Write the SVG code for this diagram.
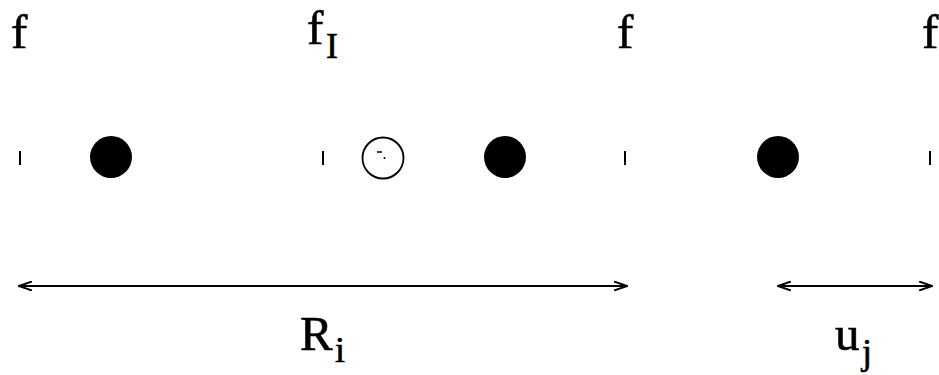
<svg xmlns="http://www.w3.org/2000/svg" width="939" height="375" viewBox="0 0 939 375">
<defs>
<style>
text{font-family:"Liberation Serif","Times New Roman",serif;fill:#000;stroke:#000;stroke-width:0.6}
.m{font-size:49px}
.s{font-size:36px}
.tick{stroke:#000;stroke-width:2}
.ln{stroke:#000;stroke-width:2;fill:none}
</style>
<marker id="ah" viewBox="0 0 14 10" refX="13" refY="5" markerWidth="14" markerHeight="10" markerUnits="userSpaceOnUse" orient="auto-start-reverse">
<path d="M0,0.5 L13,5 L0,9.5" fill="none" stroke="#000" stroke-width="2"/>
</marker>
</defs>
<rect width="939" height="375" fill="#fff"/>
<g id="label-f1"><text class="m" x="11" y="48">f</text></g>
<g id="label-fI"><text class="m" x="307" y="44">f</text><text class="s" x="326" y="58">I</text></g>
<g id="label-f2"><text class="m" x="617" y="48">f</text></g>
<g id="label-f3"><text class="m" x="922" y="48">f</text></g>
<g id="ticks">
<line class="tick" x1="20" y1="151" x2="20" y2="165"/>
<line class="tick" x1="323" y1="151" x2="323" y2="165"/>
<line class="tick" x1="625" y1="151" x2="625" y2="165"/>
<line class="tick" x1="930" y1="151" x2="930" y2="165"/>
</g>
<g id="dot1"><circle cx="111" cy="157" r="21" fill="#000"/></g>
<g id="open-dot"><circle cx="383" cy="158" r="20.5" fill="none" stroke="#000" stroke-width="1.8"/><line x1="377" y1="152" x2="382" y2="152" stroke="#000" stroke-width="1.5"/><circle cx="384.5" cy="158" r="1" fill="#000"/></g>
<g id="dot2"><circle cx="505" cy="157" r="21" fill="#000"/></g>
<g id="dot3"><circle cx="778" cy="157" r="21" fill="#000"/></g>
<g id="connectors">
<line class="ln" x1="19" y1="286" x2="627" y2="286" marker-start="url(#ah)" marker-end="url(#ah)"/>
<line class="ln" x1="778" y1="286" x2="932" y2="286" marker-start="url(#ah)" marker-end="url(#ah)"/>
</g>
<g id="label-Ri"><text class="m" x="300" y="350">R</text><text class="s" x="335" y="362">i</text></g>
<g id="label-uj"><text class="m" x="835" y="350">u</text><text class="s" x="862" y="364">j</text></g>
</svg>
